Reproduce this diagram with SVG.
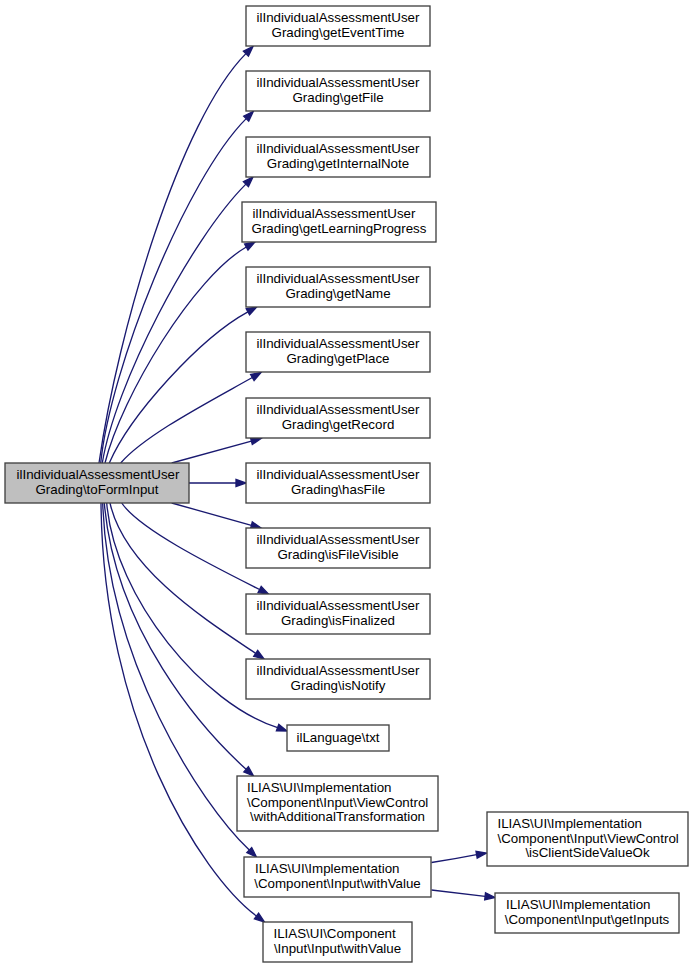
<svg xmlns="http://www.w3.org/2000/svg" width="693" height="968" viewBox="0 0 693 968">
<style>
.n rect{fill:#ffffff;stroke:#404040;stroke-width:1.33}
.root rect{fill:#bfbfbf}
text{font-family:"Liberation Sans",Arial,sans-serif;font-size:13.33px;fill:#000}
.m{text-anchor:middle}
.e path{fill:none;stroke:#191970;stroke-width:1.33}
.e polygon{fill:#191970;stroke:#191970;stroke-width:1.33}
</style>
<rect width="693" height="968" fill="#ffffff"/>
<g class="e" id="edges">
<path d="M99,463 C118,330 180,120 245.9,53.6"/>
<polygon points="248.4,56.1 253,46.5 243.4,51.1"/>
<path d="M100.7,463 C110,370 185,180 246.2,118.6"/>
<polygon points="248.7,121.1 253.3,111.5 243.7,116.1"/>
<path d="M102.3,463 C115,385 190,240 245.9,184.1"/>
<polygon points="248.4,186.6 253,177 243.4,181.6"/>
<path d="M105,463 C122,395 194,277 246.3,247"/>
<polygon points="248,250 255,242 244.6,244"/>
<path d="M109.3,463 C130,415 200,338 247.9,311.8"/>
<polygon points="249.6,314.9 256.7,307 246.2,308.7"/>
<path d="M120.7,463 C145,435 208,402.5 252.3,377.5"/>
<polygon points="254.1,380.5 261,372.5 250.6,374.5"/>
<path d="M171.7,463 L251.4,441.1"/>
<polygon points="252.3,444.5 261,438.5 250.5,437.7"/>
<path d="M189,483 L236,483"/>
<polygon points="236,479.5 246,483 236,486.5"/>
<path d="M171.7,503 L251.4,525.3"/>
<polygon points="250.5,528.7 261,528 252.3,521.9"/>
<path d="M121.7,503 C140,530 215,567 259.6,589.5"/>
<polygon points="258,592.6 268.5,594 261.2,586.4"/>
<path d="M110,503 C125,570 210,622.6 255.7,653.4"/>
<polygon points="253.7,656.3 264,659 257.7,650.5"/>
<path d="M106.7,503 C115,600 205,705 277.6,727.6"/>
<polygon points="276.4,730.9 287,731 278.8,724.3"/>
<path d="M104.3,503 C115,630 201.7,729.1 246.1,769.3"/>
<polygon points="243.8,771.9 253.5,776 248.4,766.7"/>
<path d="M102.7,503 C108,660 198.9,801.8 249.3,850.1"/>
<polygon points="246.9,852.6 256.5,857 251.7,847.6"/>
<path d="M101,503 C103,720 200.5,874 256.5,916"/>
<polygon points="254.4,918.8 264.5,922 258.6,913.2"/>
<path d="M431.5,862.5 C445,860.5 460,858 476.6,854.7"/>
<polygon points="477.2,858.1 486.5,853 476,851.3"/>
<path d="M431.5,890 C448,892 465,894 485.1,896.3"/>
<polygon points="484.7,899.8 495,897.5 485.5,892.8"/>
</g>
<g class="n root" id="node_root"><rect x="5" y="463" width="184" height="40"/><text x="16.5" y="479">ilIndividualAssessmentUser</text><text class="m" x="97" y="493.5">Grading\toFormInput</text></g>
<g class="n" id="node_getEventTime"><rect x="246" y="6" width="184" height="40"/><text x="256.5" y="22">ilIndividualAssessmentUser</text><text class="m" x="338" y="36.5">Grading\getEventTime</text></g>
<g class="n" id="node_getFile"><rect x="246" y="71" width="184" height="40"/><text x="256.5" y="87">ilIndividualAssessmentUser</text><text class="m" x="338" y="101.5">Grading\getFile</text></g>
<g class="n" id="node_getInternalNote"><rect x="246" y="137" width="184" height="40"/><text x="256.5" y="153">ilIndividualAssessmentUser</text><text class="m" x="338" y="167.5">Grading\getInternalNote</text></g>
<g class="n" id="node_getLearningProgress"><rect x="242" y="202" width="194" height="40"/><text x="252.5" y="218">ilIndividualAssessmentUser</text><text class="m" x="339" y="232.5">Grading\getLearningProgress</text></g>
<g class="n" id="node_getName"><rect x="246" y="267" width="184" height="40"/><text x="256.5" y="283">ilIndividualAssessmentUser</text><text class="m" x="338" y="297.5">Grading\getName</text></g>
<g class="n" id="node_getPlace"><rect x="246" y="332" width="184" height="40"/><text x="256.5" y="348">ilIndividualAssessmentUser</text><text class="m" x="338" y="362.5">Grading\getPlace</text></g>
<g class="n" id="node_getRecord"><rect x="246" y="398" width="184" height="40"/><text x="256.5" y="414">ilIndividualAssessmentUser</text><text class="m" x="338" y="428.5">Grading\getRecord</text></g>
<g class="n" id="node_hasFile"><rect x="246" y="463" width="184" height="40"/><text x="256.5" y="479">ilIndividualAssessmentUser</text><text class="m" x="338" y="493.5">Grading\hasFile</text></g>
<g class="n" id="node_isFileVisible"><rect x="246" y="528" width="184" height="40"/><text x="256.5" y="544">ilIndividualAssessmentUser</text><text class="m" x="338" y="558.5">Grading\isFileVisible</text></g>
<g class="n" id="node_isFinalized"><rect x="246" y="594" width="184" height="40"/><text x="256.5" y="610">ilIndividualAssessmentUser</text><text class="m" x="338" y="624.5">Grading\isFinalized</text></g>
<g class="n" id="node_isNotify"><rect x="246" y="659" width="184" height="40"/><text x="256.5" y="675">ilIndividualAssessmentUser</text><text class="m" x="338" y="689.5">Grading\isNotify</text></g>
<g class="n" id="node_txt"><rect x="287" y="725" width="102" height="26"/><text class="m" x="338" y="742">ilLanguage\txt</text></g>
<g class="n" id="node_withAdditionalTransformation"><rect x="237" y="776" width="201" height="55"/><text x="247" y="792">ILIAS\UI\Implementation</text><text x="247" y="806.5">\Component\Input\ViewControl</text><text class="m" x="337.5" y="821">\withAdditionalTransformation</text></g>
<g class="n" id="node_withValue"><rect x="244" y="857" width="187" height="40"/><text x="255" y="873">ILIAS\UI\Implementation</text><text class="m" x="337.5" y="887.5">\Component\Input\withValue</text></g>
<g class="n" id="node_inputWithValue"><rect x="263" y="922" width="149" height="40"/><text x="273.5" y="938">ILIAS\UI\Component</text><text class="m" x="337.5" y="952.5">\Input\Input\withValue</text></g>
<g class="n" id="node_isClientSideValueOk"><rect x="487" y="812" width="201" height="54"/><text x="497.5" y="828">ILIAS\UI\Implementation</text><text x="497.5" y="842.5">\Component\Input\ViewControl</text><text class="m" x="587.5" y="857">\isClientSideValueOk</text></g>
<g class="n" id="node_getInputs"><rect x="495" y="893" width="184" height="40"/><text x="506" y="909">ILIAS\UI\Implementation</text><text class="m" x="587" y="923.5">\Component\Input\getInputs</text></g>
</svg>
